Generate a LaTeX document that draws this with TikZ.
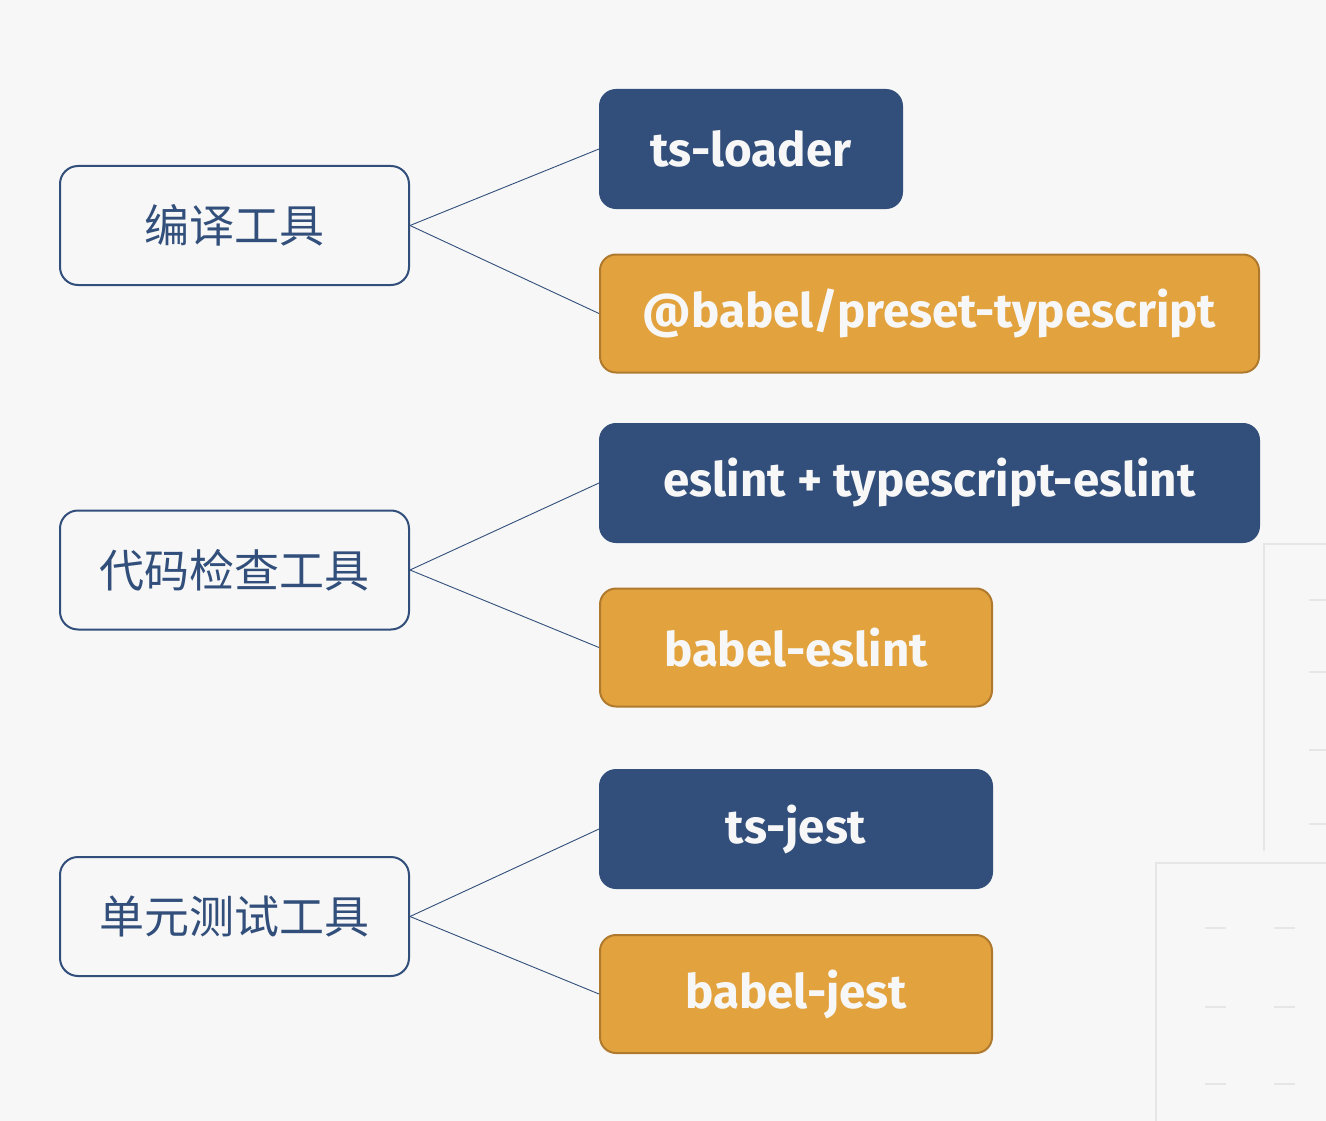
\documentclass[tikz,border=0pt]{standalone}
\usepackage{fontspec}
\setsansfont{Fira Sans}
\newfontfamily\cjk{Noto Sans CJK SC}
\definecolor{bg}{HTML}{F7F7F7}
\definecolor{navy}{HTML}{324F7B}
\definecolor{amber}{HTML}{E2A23E}
\definecolor{amberb}{HTML}{B07A2E}
\definecolor{faint}{HTML}{E6E6E6}
\begin{document}
\begin{tikzpicture}[x=1pt,y=-1pt,
  catbox/.style={draw=navy, line width=2pt, fill=bg, rounded corners=18pt,
    minimum width=349pt, minimum height=119pt, text=navy, inner sep=0pt,
    font=\cjk\fontsize{45}{45}\selectfont},
  toolbox/.style={rounded corners=16pt, text=bg, inner sep=0pt,
    minimum height=118pt, font=\sffamily\bfseries\fontsize{47.5}{47.5}\selectfont},
  bluebox/.style={toolbox, fill=navy, draw=navy, line width=2pt},
  orangebox/.style={toolbox, fill=amber, draw=amberb, line width=2pt},
  link/.style={draw=navy, line width=0.9pt},
  faintline/.style={draw=faint, line width=2.5pt},
  faintdash/.style={draw=faint, line width=1.5pt}]
\fill[bg] (0,0) rectangle (1326,1121);
\useasboundingbox (0,0) rectangle (1326,1121);
% faint background shapes
\draw[faintline] (1264,851) -- (1264,544) -- (1326,544);
\draw[faintline] (1156,1121) -- (1156,863) -- (1326,863);
\foreach \yy in {600,672,750,824} \draw[faintdash] (1309,\yy) -- (1326,\yy);
\foreach \yy in {928,1007,1084} {
  \draw[faintdash] (1205,\yy) -- (1226,\yy);
  \draw[faintdash] (1274,\yy) -- (1295,\yy);
}
% categories
\node[catbox] (c1) at (234.5,225.5) {编译工具};
\node[catbox] (c2) at (234.5,570) {代码检查工具};
\node[catbox] (c3) at (234.5,916.5) {单元测试工具};
% tools
\node[bluebox, minimum width=302pt] (t1) at (751,149) {ts-loader};
\node[orangebox, minimum width=659pt] (t2) at (929.5,313.5) {@babel/preset-typescript};
\node[bluebox, minimum width=659pt] (t3) at (929.5,483) {eslint + typescript-eslint};
\node[orangebox, minimum width=392pt] (t4) at (796,647.5) {babel-eslint};
\node[bluebox, minimum width=392pt] (t5) at (796,829) {ts-jest};
\node[orangebox, minimum width=392pt] (t6) at (796,994) {babel-jest};
% connectors
\draw[link] (c1.east) -- (t1.west);
\draw[link] (c1.east) -- (t2.west);
\draw[link] (c2.east) -- (t3.west);
\draw[link] (c2.east) -- (t4.west);
\draw[link] (c3.east) -- (t5.west);
\draw[link] (c3.east) -- (t6.west);
\end{tikzpicture}
\end{document}
